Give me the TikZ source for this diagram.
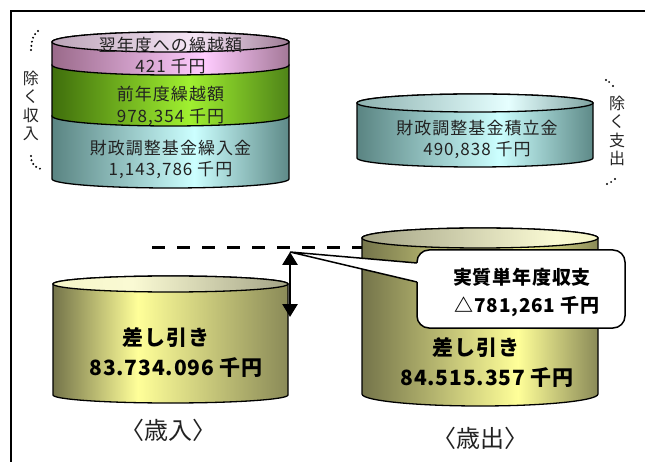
\documentclass[tikz,border=0pt]{standalone}
\usepackage{fontspec}
\setmainfont{Noto Sans CJK JP}
\newfontfamily\jp[LetterSpace=6]{Noto Sans CJK JP}
\newfontfamily\jpb[LetterSpace=4]{Noto Sans CJK JP}
\usetikzlibrary{arrows.meta}

\definecolor{pkD}{HTML}{9A6A8A}\definecolor{pkL}{HTML}{FFCCFF}\definecolor{pkE}{HTML}{A47898}
\definecolor{ptD}{HTML}{BBA4B8}\definecolor{ptL}{HTML}{F6E6F6}\definecolor{ptE}{HTML}{9E7C96}
\definecolor{gD}{HTML}{3F6E0C}\definecolor{gL}{HTML}{A0F030}\definecolor{gE}{HTML}{4F8418}
\definecolor{tD}{HTML}{5A8482}\definecolor{tL}{HTML}{CCFFFF}\definecolor{tE}{HTML}{5E8A88}
\definecolor{ttD}{HTML}{8EB2B0}\definecolor{ttL}{HTML}{E6FFFF}\definecolor{ttE}{HTML}{7EA2A0}
\definecolor{oD}{HTML}{74744A}\definecolor{oL}{HTML}{FFFF99}\definecolor{oE}{HTML}{8A8A58}
\definecolor{otA}{HTML}{F6F6C8}\definecolor{otB}{HTML}{FAFAD4}\definecolor{otC}{HTML}{A4A486}
\definecolor{txt}{HTML}{222222}

\pgfdeclarehorizontalshading{pinkbody}{100bp}{color(0bp)=(pkD); color(25bp)=(pkD); color(57bp)=(pkL); color(75bp)=(pkE); color(100bp)=(pkE)}
\pgfdeclarehorizontalshading{pinktop}{100bp}{color(0bp)=(ptD); color(25bp)=(ptD); color(55bp)=(ptL); color(75bp)=(ptE); color(100bp)=(ptE)}
\pgfdeclarehorizontalshading{greenbody}{100bp}{color(0bp)=(gD); color(25bp)=(gD); color(54bp)=(gL); color(75bp)=(gE); color(100bp)=(gE)}
\pgfdeclarehorizontalshading{tealbody}{100bp}{color(0bp)=(tD); color(25bp)=(tD); color(55bp)=(tL); color(75bp)=(tE); color(100bp)=(tE)}
\pgfdeclarehorizontalshading{tealtop}{100bp}{color(0bp)=(ttD); color(25bp)=(ttD); color(57bp)=(ttL); color(75bp)=(ttE); color(100bp)=(ttE)}
\pgfdeclarehorizontalshading{olivebodyL}{100bp}{color(0bp)=(oD); color(25bp)=(oD); color(43bp)=(oL); color(75bp)=(oE); color(100bp)=(oE)}
\pgfdeclarehorizontalshading{olivetopL}{100bp}{color(0bp)=(otA); color(25bp)=(otA); color(42bp)=(otB); color(75bp)=(otC); color(100bp)=(otC)}
\pgfdeclarehorizontalshading{olivebodyR}{100bp}{color(0bp)=(oD); color(25bp)=(oD); color(58bp)=(oL); color(75bp)=(oE); color(100bp)=(oE)}
\pgfdeclarehorizontalshading{olivetopR}{100bp}{color(0bp)=(otC); color(25bp)=(otC); color(66bp)=(otB); color(75bp)=(otA); color(100bp)=(otA)}

% #1 shading, #2 L, #3 R, #4 ytop, #5 ybot, #6 ry top, #7 ry bot
\newcommand\cylbody[7]{%
  \pgfmathsetmacro\crx{(#3-#2)/2}%
  \shadedraw[cylline, shading=#1] (#2,-#4) -- (#2,-#5)
    arc[start angle=180,end angle=360,x radius=\crx pt,y radius=#7pt]
    -- (#3,-#4)
    arc[start angle=0,end angle=180,x radius=\crx pt,y radius=#6pt] -- cycle;}
\newcommand\cyltop[5]{% #1 shading, #2 L, #3 R, #4 y, #5 ry
  \pgfmathsetmacro\crx{(#3-#2)/2}%
  \pgfmathsetmacro\ccx{(#3+#2)/2}%
  \shadedraw[cylline, shading=#1] (\ccx,-#4) ellipse [x radius=\crx pt, y radius=#5pt];}

\begin{document}
\begin{tikzpicture}[x=1pt,y=1pt,
  cylline/.style={draw=black, line width=1.3pt},
  lbl/.style={inner sep=0pt, text=txt, font=\jp\fontsize{17}{20}\selectfont},
  vlbl/.style={inner sep=0pt, text=txt, align=center, font=\fontsize{16}{18.5}\selectfont},
  pop/.style={inner sep=0pt, text=black, font=\jpb\bfseries\fontsize{21}{24}\selectfont},
  captxt/.style={inner sep=0pt, text=txt, font=\fontsize{24}{26}\selectfont},
  callouttxt/.style={inner sep=0pt, text=black, font=\jpb\bfseries\fontsize{19}{22}\selectfont},
  dotline/.style={line width=2.2pt, line cap=round, dash pattern=on 0pt off 4.2pt}]
\useasboundingbox (0,0) rectangle (645,-462);
\fill[white] (0,0) rectangle (645,-462);

% frame
\draw[line width=1.5pt] (11,-462) -- (11,-11) -- (645,-11);

% left brackets and vertical text
\draw[dotline] (38,-31) .. controls (32,-35) and (31,-44) .. (31,-53);
\draw[dotline] (31,-156) .. controls (31,-163) and (34,-167) .. (41,-169);
\node[vlbl] (jyonyu) at (31,-106) {除\\く\\収\\入};

% right brackets and vertical text
\fill (606,-80) circle (1.2pt) (609,-82) circle (1pt) (613,-86) circle (1.2pt);
\fill (615,-179) circle (1.2pt) (611,-182) circle (1pt) (607,-184) circle (1.2pt);
\node[vlbl] (jyoshi) at (617,-131) {除\\く\\支\\出};

% left stack
\cylbody{tealbody}{52}{289}{116}{179}{10}{9}
\cylbody{greenbody}{52}{289}{65}{116}{10}{10}
\cylbody{pinkbody}{52}{289}{42}{65}{10}{10}
\cyltop{pinktop}{52}{289}{42}{10}
\node[lbl] (a1) at (170.5,-45) {翌年度への繰越額};
\node[lbl] (a2) at (170.5,-66) {421 千円};
\node[lbl] (b1) at (170.5,-94) {前年度繰越額};
\node[lbl] (b2) at (170.5,-117) {978,354 千円};
\node[lbl] (c1) at (170.5,-148) {財政調整基金繰入金};
\node[lbl] (c2) at (170.5,-170) {1,143,786 千円};

% right small cylinder
\cylbody{tealbody}{357}{593}{103}{158}{9}{9}
\cyltop{tealtop}{357}{593}{103}{9}
\node[lbl] (d1) at (477,-128) {財政調整基金積立金};
\node[lbl] (d2) at (477,-150) {490,838 千円};

% dashed reference line
\coordinate (dstart) at (152,-248);
\coordinate (dend) at (362,-248);
\draw[line width=3pt, dash pattern=on 13pt off 12pt] (dstart) -- (dend);

% big cylinders
\cylbody{olivebodyR}{362}{598}{238}{394}{10}{12}
\cyltop{olivetopR}{362}{598}{238}{10}
\cylbody{olivebodyL}{53}{288}{284}{395}{8}{8}
\cyltop{olivetopL}{53}{288}{284}{8}

\node[pop] (e1) at (166,-337) {差し引き};
\node[pop] (e2) at (176,-368) {83.734.096 千円};
\node[pop] (f1) at (476,-347) {差し引き};
\node[pop] (f2) at (487,-378) {84.515.357 千円};

\node[captxt] (g1) at (168,-430) {〈歳入〉};
\node[captxt] (g2) at (480,-438) {〈歳出〉};

% double arrow
\coordinate (apex) at (290,-252);
\coordinate (abot) at (290,-317);
\draw[line width=2.8pt, {Triangle[width=15pt,length=13pt]}-{Triangle[width=15pt,length=13pt]}] (apex) -- (abot);

% callout
\node[draw, fill=white, rounded corners=12pt, line width=1.5pt, minimum width=208pt, minimum height=78pt, inner sep=0pt] (cb) at (521,-289) {};
\coordinate (w1) at (417,-263);
\coordinate (w2) at (417,-282);
\fill[white] (apex) -- (w1) -- ([xshift=5pt]w1) -- ([xshift=5pt]w2) -- (w2) -- cycle;
\draw[line width=1.5pt] (w1) -- (apex) -- (w2);
\node[callouttxt] (h1) at (522,-277) {実質単年度収支};
\node[callouttxt] (h2) at (527,-307) {△781,261 千円};
\end{tikzpicture}
\end{document}
